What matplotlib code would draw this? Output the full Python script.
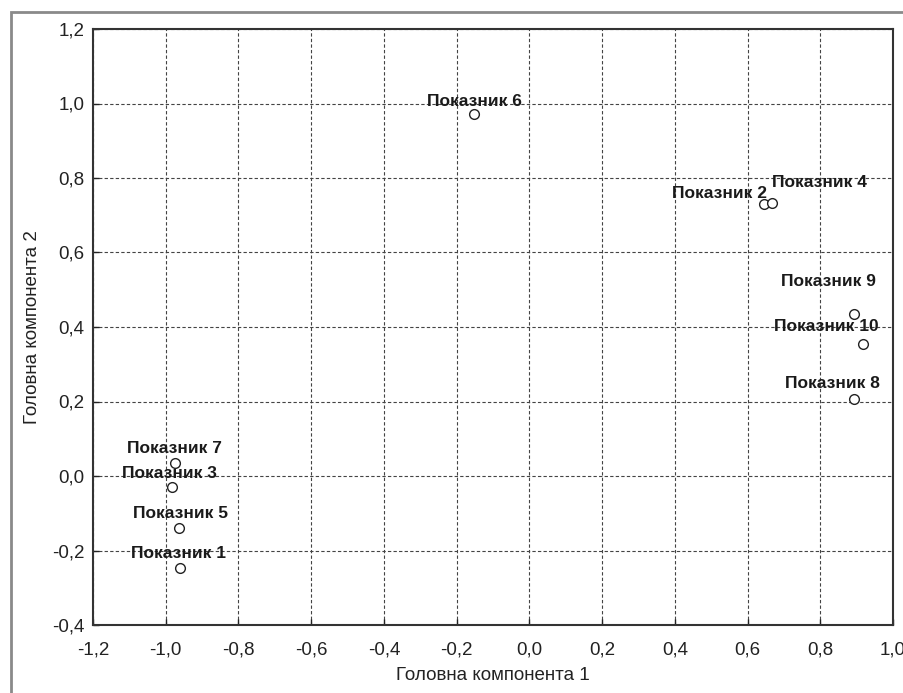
import matplotlib.pyplot as plt
from matplotlib.patches import Rectangle
from matplotlib.ticker import FuncFormatter, MultipleLocator

# Factor loadings
labels = ["Показник 1", "Показник 2", "Показник 3", "Показник 4", "Показник 5",
          "Показник 6", "Показник 7", "Показник 8", "Показник 9", "Показник 10"]
pc1 = [-0.961, 0.645, -0.983, 0.667, -0.963, -0.152, -0.974, 0.893, 0.893, 0.918]
pc2 = [-0.247, 0.730, -0.030, 0.733, -0.140, 0.972, 0.035, 0.207, 0.435, 0.354]

# label placement (pixel offsets from the point, horizontal alignment)
label_pos = [(-1, 15, "center"), (3, 11, "right"), (-2, 14, "center"),
             (0, 20, "left"), (1, 15, "center"), (0, 12, "center"),
             (-1, 14, "center"), (-22, 15, "center"), (-26, 32, "center"),
             (-37, 18, "center")]


def comma_formatter(x, pos):
    """Decimal comma, one digit"""
    return f"{x:.1f}".replace(".", ",").replace("-0,0", "0,0")


def main():
    plt.rcParams["font.family"] = ["Liberation Sans", "DejaVu Sans"]
    fig = plt.figure(figsize=(9.04, 6.93), dpi=100)
    W, H = 904, 693

    # outer grey frame (only left and top visible in the crop)
    fig.patches.append(Rectangle((11 / W, -0.1), 1.2, 1 - 12 / H + 0.1,
                                 transform=fig.transFigure, fill=False,
                                 edgecolor="#8a8a8a", linewidth=2))

    ax = fig.add_axes([93 / W, 1 - 625 / H, 800 / W, 596 / H])
    ax.plot(pc1, pc2, "o", markersize=7, markerfacecolor="white",
            markeredgecolor="#222222", markeredgewidth=1, zorder=3)

    for x, y, name, (dx, dy, ha) in zip(pc1, pc2, labels, label_pos):
        ax.annotate(name, (x, y), xytext=(dx, dy), textcoords="offset pixels",
                    ha=ha, va="center", fontsize=12.5, fontweight="bold",
                    color="#1a1a1a", zorder=4)

    ax.set_xlim(-1.2, 1.0)
    ax.set_ylim(-0.4, 1.2)
    ax.xaxis.set_major_locator(MultipleLocator(0.2))
    ax.yaxis.set_major_locator(MultipleLocator(0.2))
    ax.xaxis.set_major_formatter(FuncFormatter(comma_formatter))
    ax.yaxis.set_major_formatter(FuncFormatter(comma_formatter))
    ax.tick_params(direction="in", length=4, width=1, labelsize=13.5,
                   colors="#222222")
    ax.tick_params(axis="x", pad=12)
    ax.tick_params(axis="y", pad=6)
    ax.grid(True, color="#444444", linestyle=(0, (3, 2)), linewidth=0.8)
    for s in ax.spines.values():
        s.set_color("#333333")
        s.set_linewidth(1.5)

    ax.set_xlabel("Головна компонента 1", fontsize=13.5, color="#222222", labelpad=6)
    ax.set_ylabel("Головна компонента 2", fontsize=13.5, color="#222222", labelpad=8)

    fig.savefig("out.png", dpi=100)


if __name__ == "__main__":
    main()
